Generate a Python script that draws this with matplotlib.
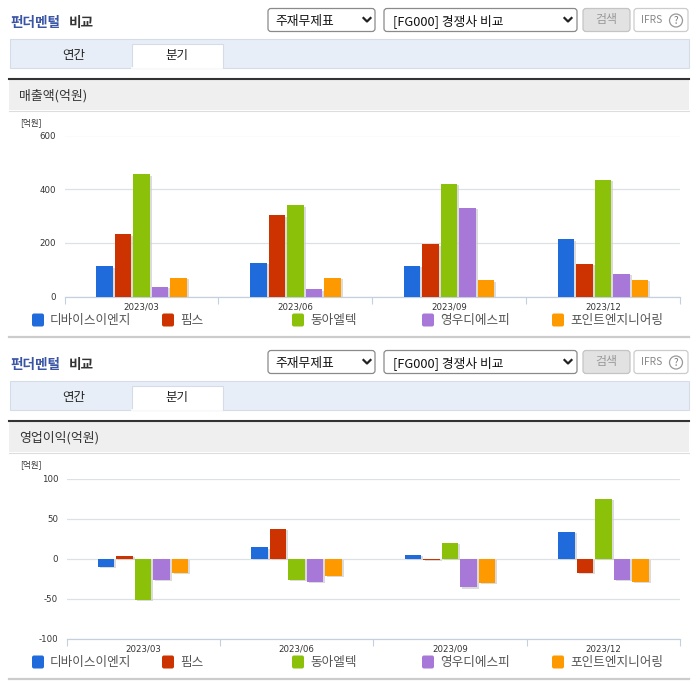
import numpy as np
import matplotlib
matplotlib.use('Agg')
import matplotlib.pyplot as plt
import matplotlib.patheffects as pe
from matplotlib.patches import Rectangle, FancyBboxPatch

plt.rcParams['font.family'] = ['Noto Sans CJK KR', 'DejaVu Sans']

W, H = 696, 684

quarters = ['2023/03', '2023/06', '2023/09', '2023/12']
companies = ['디바이스이엔지', '핌스', '동아엘텍', '영우디에스피', '포인트엔지니어링']
colors = ['#1f6bdc', '#cc3300', '#8cc10a', '#a878d8', '#ff9900']

sales = [
    [112, 125, 115, 213],
    [232, 303, 195, 122],
    [455, 340, 420, 435],
    [37, 27, 330, 85],
    [70, 70, 60, 62],
]
profit = [
    [-10, 14, 5, 33],
    [3, 37, -2, -18],
    [-52, -27, 20, 75],
    [-27, -29, -36, -27],
    [-18, -22, -30, -29],
]
sales_ticks = [0, 200, 400, 600]
profit_ticks = [-100, -50, 0, 50, 100]

legend_x = [32, 162, 292, 422, 552]

fig = plt.figure(figsize=(W / 100, H / 100), dpi=100)

# full figure axes in pixel coords for the page parts
bg = fig.add_axes([0, 0, 1, 1])
bg.set_xlim(0, W)
bg.set_ylim(H, 0)
bg.axis('off')


def box(x, y, w, h, round_=3, fc='white', ec='#999999', lw=0.9):
    bg.add_patch(FancyBboxPatch((x + round_, y + round_), w - 2 * round_, h - 2 * round_,
                                boxstyle='round,pad=%g,rounding_size=%g' % (round_, round_),
                                fc=fc, ec=ec, lw=lw))


def chevron(x, y):
    bg.plot([x - 3.5, x, x + 3.5], [y - 2, y + 1.5, y - 2], color='#222222', lw=1.6)


def draw_header(off, title):
    # title
    bg.text(10, 23.5 + off, '펀더멘털', color='#3a55a5', fontsize=9.8, fontweight='bold', va='center')
    bg.text(69, 23.5 + off, '비교', color='#333333', fontsize=9.8, fontweight='bold', va='center')

    # select boxes and buttons
    box(268, 8.5 + off, 107, 23, ec='#8a8a8a')
    bg.text(275, 21 + off, '주재무제표', color='#111111', fontsize=9.2, va='center')
    chevron(367, 20 + off)
    box(384, 8.5 + off, 193, 23, ec='#8a8a8a')
    bg.text(393, 21 + off, '[FG000] 경쟁사 비교', color='#111111', fontsize=9.2, va='center')
    chevron(568, 20 + off)
    box(583, 8.5 + off, 47, 23, fc='#e2e2e2', ec='#c4c4c4')
    bg.text(606.5, 20 + off, '검색', color='#999999', fontsize=8.6, ha='center', va='center')
    box(634, 8.5 + off, 54, 23, ec='#cccccc')
    bg.text(641, 20 + off, 'IFRS', color='#888888', fontsize=7.4, va='center')
    bg.add_patch(plt.Circle((676, 20.5 + off), 6.5, fc='white', ec='#999999', lw=0.9))
    bg.text(676, 20.5 + off, '?', color='#777777', fontsize=7, ha='center', va='center')

    # tabs
    bg.add_patch(Rectangle((9.5, 38.5 + off), 679, 29, fc='#e8eef8', ec='#d5dce8', lw=0.8))
    bg.add_patch(Rectangle((131.5, 43.5 + off), 91, 24.5, fc='white', ec='#d5dce8', lw=0.8))
    bg.plot([132, 222], [68 + off, 68 + off], color='white', lw=1.2)
    bg.text(74, 55 + off, '연간', color='#222222', fontsize=9, ha='center', va='center')
    bg.text(177, 55 + off, '분기', color='#222222', fontsize=9, ha='center', va='center')

    # section bar
    bg.add_patch(Rectangle((9, 79 + off), 680, 31, fc='#efefef', ec='none'))
    bg.plot([9, 689], [79 + off, 79 + off], color='#333333', lw=1.5)
    bg.plot([9, 689], [110.5 + off, 110.5 + off], color='#dddddd', lw=0.8)
    bg.text(19, 95.5 + off, title, color='#333333', fontsize=9.3, va='center')
    bg.text(20, 122.5 + off, '[억원]', color='#333333', fontsize=6.2, va='center')


def draw_legend(y):
    for name, color, x in zip(companies, colors, legend_x):
        bg.add_patch(FancyBboxPatch((x + 2, y - 4.5), 8, 9, boxstyle='round,pad=2,rounding_size=2',
                                    fc=color, ec='none'))
        bg.text(x + 18, y + 0.5, name, color='#555555', fontsize=9.1, va='center')


def draw_chart(box_px, values, ticks, ymin, ymax):
    left, top, right, bottom = box_px
    ax = fig.add_axes([left / W, 1 - bottom / H, (right - left) / W, (bottom - top) / H])
    ax.patch.set_alpha(0)
    x = np.arange(len(quarters))
    width = 16.5 / ((right - left) / len(quarters))
    step = 18.5 / ((right - left) / len(quarters))
    shadow = [pe.SimplePatchShadow(offset=(1.4, -1.0), shadow_rgbFace='#cccccc', alpha=0.7), pe.Normal()]
    for i, (vals, color) in enumerate(zip(values, colors)):
        ax.bar(x + (i - 2) * step, vals, width, color=color, zorder=3, path_effects=shadow)
    ax.set_xlim(-0.5, len(quarters) - 0.5)
    ax.set_ylim(ymin, ymax)
    ax.set_yticks(ticks)
    ax.set_yticklabels([str(t) for t in ticks], fontsize=6.2, color='#333333', family='DejaVu Sans')
    ax.set_xticks(x)
    ax.set_xticklabels(quarters, fontsize=6.2, color='#333333', family='DejaVu Sans')
    ax.set_xticks(np.arange(len(quarters) + 1) - 0.5, minor=True)
    ax.tick_params(axis='both', which='major', length=0, pad=6)
    ax.tick_params(axis='x', which='major', pad=4)
    ax.tick_params(axis='x', which='minor', length=5, color='#c5d0de', width=0.8, direction='out')
    ax.grid(axis='y', color='#dde1e6', lw=0.9, zorder=0)
    ax.set_axisbelow(True)
    for side in ['top', 'right', 'left']:
        ax.spines[side].set_visible(False)
    ax.spines['bottom'].set_color('#c5d0de')
    ax.spines['bottom'].set_linewidth(0.9)
    return ax


draw_header(0, '매출액(억원)')
draw_chart((64.5, 135.5, 680, 296.5), sales, sales_ticks, 0, 600)
draw_legend(320)
bg.plot([9, 689], [337, 337], color='#cccccc', lw=1.6)

draw_header(342, '영업이익(억원)')
draw_chart((66.5, 478.5, 680, 638.5), profit, profit_ticks, -100, 100)
draw_legend(662)
bg.plot([9, 689], [679, 679], color='#cccccc', lw=1.6)

fig.savefig('out.png', dpi=100)
